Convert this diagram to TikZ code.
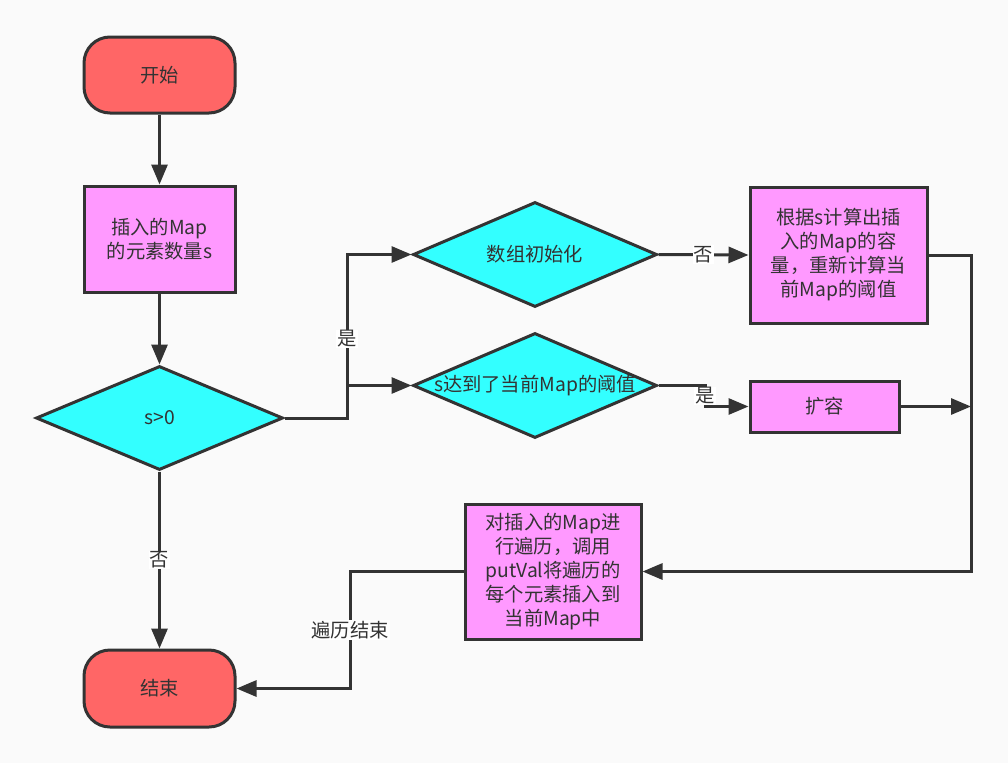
\documentclass[tikz,border=0pt]{standalone}
\usepackage{fontspec}
\setmainfont{Noto Sans CJK SC}
\usetikzlibrary{shapes.geometric,arrows.meta}
\definecolor{cbg}{HTML}{FAFAFA}
\definecolor{cln}{HTML}{333333}
\definecolor{cterm}{HTML}{FF6666}
\definecolor{cproc}{HTML}{FF99FF}
\definecolor{cdec}{HTML}{33FFFF}
\begin{document}
\begin{tikzpicture}[x=1pt,y=-1pt,
  every node/.style={font=\fontsize{19.3}{24}\selectfont, text=cln},
  base/.style={draw=cln, line width=3pt, inner sep=0pt, align=center},
  termbox/.style={base, rectangle, rounded corners=26pt, fill=cterm, minimum width=151pt, minimum height=76pt},
  procbox/.style={base, rectangle, fill=cproc},
  decbox/.style={base, diamond, fill=cdec},
  lbl/.style={fill=white, inner sep=1pt, text=cln},
  arr/.style={draw=cln, line width=3pt, -{Triangle[length=20pt,width=16pt]}},
  plain/.style={draw=cln, line width=3pt}
]
\useasboundingbox (0,0) rectangle (1008,763);
\fill[cbg] (0,0) rectangle (1008,763);

\node[termbox] (start) at (159.5,75) {开始};
\node[procbox, minimum width=151pt, minimum height=106pt] (b1) at (159.5,239) {插入的Map\\的元素数量s};
\node[decbox, minimum width=247pt, minimum height=104pt, label={center:s>0}] (d0) at (159.5,418) {};
\node[termbox, minimum height=77pt] (end) at (159.5,688.5) {结束};

\node[decbox, minimum width=244pt, minimum height=105pt, label={center:数组初始化}] (d1) at (535,254.5) {};
\node[decbox, minimum width=244pt, minimum height=105pt, label={center:s达到了当前Map的阈值}] (d2) at (535,385.5) {};

\node[procbox, minimum width=177pt, minimum height=136pt] (b2) at (838.5,255) {根据s计算出插\\入的Map的容\\量，重新计算当\\前Map的阈值};
\node[procbox, minimum width=149pt, minimum height=51pt] (b3) at (824.5,406.5) {扩容};
\node[procbox, minimum width=176pt, minimum height=135pt] (b4) at (553,571.5) {对插入的Map进\\行遍历，调用\\putVal将遍历的\\每个元素插入到\\当前Map中};

\coordinate (jx) at (347,0);
\coordinate (jy) at (705,0);
\coordinate (rx) at (971,0);
\coordinate (jz) at (350,0);

\draw[arr] (start) -- (b1);
\draw[arr] (b1) -- (d0);
\draw[arr] (d0.east) -- (d0.east -| jx) |- (d1.west);
\draw[arr] (d0.east -| jx) |- (d2.west);
\node[lbl] (lyes1) at (347,339) {是};
\draw[arr] (d1.east) -- node[lbl] (lno1) {否} (b2.west);
\draw[arr] (d2.east) -- (d2.east -| jy) -- node[lbl] (lyes2) {是} (jy |- b3.west) -- (b3.west);
\draw[arr] (b3.east) -- (b3.east -| rx);
\draw[arr] (b2.east) -- (b2.east -| rx) -- (rx |- b4.east) -- (b4.east);
\draw[arr] (d0.south) -- node[lbl] (lno2) {否} (end.north);
\draw[arr] (b4.west) -- (b4.west -| jz) -- node[lbl] (lend) {遍历结束} (jz |- end.east) -- (end.east);
\end{tikzpicture}
\end{document}
